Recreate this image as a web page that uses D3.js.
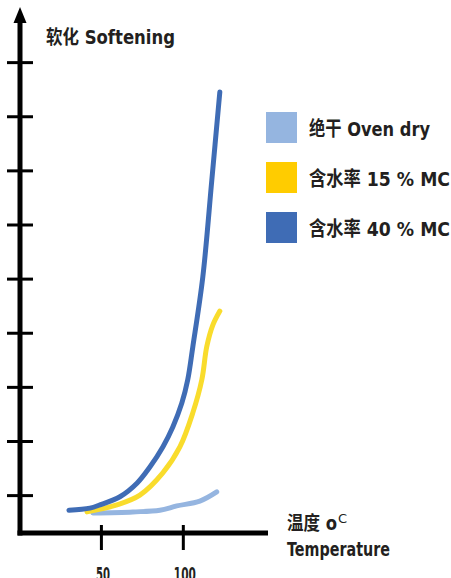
<!DOCTYPE html>
<html>
<head>
<meta charset="utf-8">
<script src="https://cdn.jsdelivr.net/npm/d3@7"></script>
<style>
  body { margin: 0; background: #fff; }
  text { font-family: "DejaVu Sans", "Noto Sans CJK SC", sans-serif; font-weight: bold; fill: #231f20; }
</style>
</head>
<body>
<svg id="chart" width="451" height="578"></svg>
<script>
// values (temperature in oC, softening in tick units)
var temps40 = [30.5, 43.3, 49.4, 61.6, 72, 79.9, 87.8, 93.9, 99.4, 103, 106.1, 112.2, 117.7, 122.6];
var soft40 = [0.72, 0.76, 0.82, 0.97, 1.22, 1.52, 1.89, 2.26, 2.7, 3.13, 3.74, 5.03, 6.82, 8.45];
var temps15 = [41.5, 59.8, 73.8, 87.8, 98.2, 106.1, 111.6, 114.6, 118.3, 122.6];
var soft15 = [0.69, 0.82, 1.0, 1.41, 1.89, 2.52, 3.13, 3.74, 4.14, 4.4];
var tempsDry = [45.1, 69.5, 86, 96.3, 110.4, 120.7];
var softDry = [0.67, 0.69, 0.72, 0.8, 0.89, 1.06];
var xTicks = [50, 100];
var yTicks = [1, 2, 3, 4, 5, 6, 7, 8, 9];
var legendLabels = ["绝干 Oven dry", "含水率 15 % MC", "含水率 40 % MC"];
var legendWidths = [121, 141, 141];
var colors = ["#95b5e0", "#ffcc00", "#3f6cb5"];
var lineColors = ["#95b5e0", "#f9dc2c", "#3f6cb5"];

var series = [
  { t: tempsDry, s: softDry },
  { t: temps15, s: soft15 },
  { t: temps40, s: soft40 }
];

var svg = d3.select("#chart");

var x = d3.scaleLinear().domain([0, 152]).range([19, 268]);
var y = d3.scaleLinear().domain([0.3, 10]).range([533, 8]);

// curves first so axes sit on top
var line = d3.line()
  .x(d => x(d[0]))
  .y(d => y(d[1]))
  .curve(d3.curveCatmullRom.alpha(0.5));

svg.selectAll("path.curve")
  .data(series)
  .join("path")
  .attr("class", "curve")
  .attr("d", d => line(d.t.map((v, i) => [v, d.s[i]])))
  .attr("fill", "none")
  .attr("stroke", (d, i) => lineColors[i])
  .attr("stroke-width", 5)
  .attr("stroke-linecap", "round");

// y axis, ticks cross the line
var yAxis = svg.append("g")
  .attr("transform", "translate(20,0)")
  .call(d3.axisLeft(y).tickValues(yTicks).tickSize(13).tickFormat(""));
yAxis.select(".domain").remove();
yAxis.selectAll(".tick line").attr("x1", -13).attr("x2", 13).attr("stroke", "#000").attr("stroke-width", 3);

svg.append("line")
  .attr("x1", 20).attr("x2", 20)
  .attr("y1", 18).attr("y2", 535.5)
  .attr("stroke", "#000").attr("stroke-width", 5);

// arrow head
svg.append("path")
  .attr("d", "M20,7 L26.5,23 L13.5,23 Z")
  .attr("fill", "#000");

// x axis
var xAxis = svg.append("g")
  .attr("transform", "translate(0,533)")
  .call(d3.axisBottom(x).tickValues(xTicks).tickSize(17).tickFormat(""));
xAxis.select(".domain").remove();
xAxis.selectAll(".tick line").attr("y1", -8).attr("y2", 17).attr("stroke", "#000").attr("stroke-width", 3);

svg.append("line")
  .attr("x1", 17.5).attr("x2", 268)
  .attr("y1", 533).attr("y2", 533)
  .attr("stroke", "#000").attr("stroke-width", 5);

// tick labels sit partly below the picture edge, as in the original
svg.selectAll("text.xlab")
  .data(xTicks)
  .join("text")
  .attr("class", "xlab")
  .attr("x", d => x(d) + 2)
  .attr("y", 581)
  .attr("text-anchor", "middle")
  .attr("font-size", 19)
  .attr("textLength", d => d < 100 ? 14 : 22)
  .attr("lengthAdjust", "spacingAndGlyphs")
  .text(d => d);

// titles
svg.append("text").attr("x", 46).attr("y", 44).attr("font-size", 19)
  .attr("textLength", 129).attr("lengthAdjust", "spacingAndGlyphs")
  .text("软化 Softening");

var tl = svg.append("text").attr("x", 287).attr("y", 530).attr("font-size", 19);
tl.append("tspan").attr("textLength", 50).attr("lengthAdjust", "spacingAndGlyphs").text("温度 o");
tl.append("tspan").attr("dx", 1).attr("dy", -7).attr("font-size", 13).attr("font-weight", "normal").text("C");
svg.append("text").attr("x", 287).attr("y", 556).attr("font-size", 19)
  .attr("textLength", 103).attr("lengthAdjust", "spacingAndGlyphs")
  .text("Temperature");

// legend
var leg = svg.selectAll("g.leg")
  .data(legendLabels)
  .join("g")
  .attr("class", "leg")
  .attr("transform", (d, i) => "translate(266," + (112 + i * 50) + ")");
leg.append("rect").attr("width", 31).attr("height", 31).attr("fill", (d, i) => colors[i]);
leg.append("text").attr("x", 43).attr("y", 24).attr("font-size", 20)
  .attr("textLength", (d, i) => legendWidths[i]).attr("lengthAdjust", "spacingAndGlyphs")
  .text(d => d);
</script>
</body>
</html>
